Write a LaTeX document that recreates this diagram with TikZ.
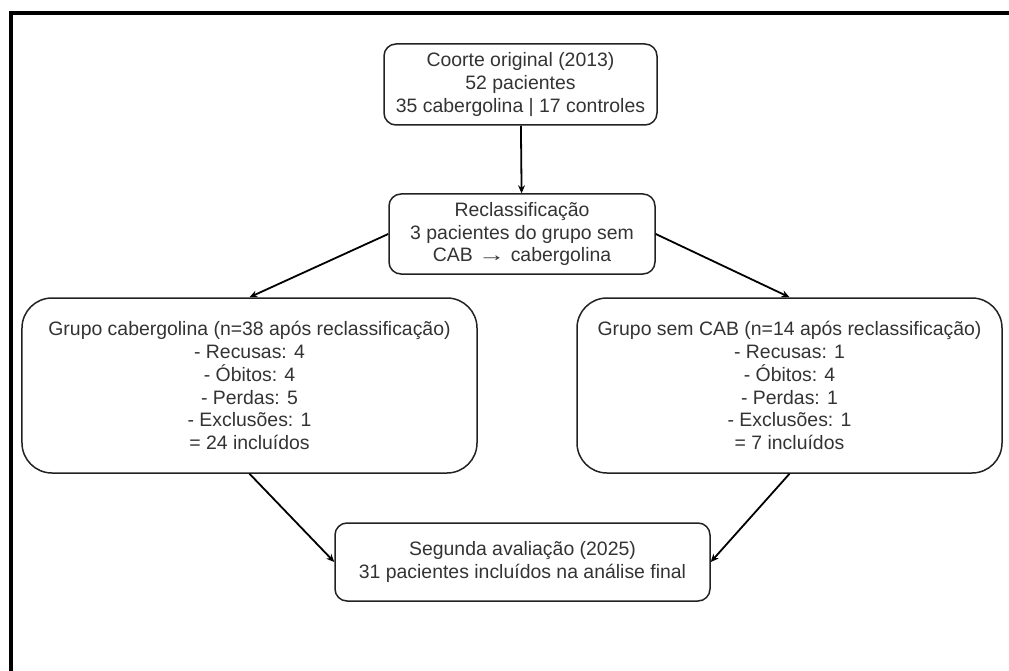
\documentclass[tikz,border=0pt]{standalone}
\usepackage{fontspec}
\setmainfont{Liberation Sans}
\usetikzlibrary{arrows.meta, positioning}
\definecolor{boxLine}{HTML}{222222}
\definecolor{txtGrey}{HTML}{333333}

\tikzset{
  flowbox/.style={draw=boxLine, line width=1.5bp, rounded corners=12bp, align=center,
    text=txtGrey, font=\fontsize{19.5}{23}\selectfont, inner sep=0pt},
  bigbox/.style={flowbox, rounded corners=30bp},
  flowarrow/.style={draw=black, line width=1.8bp, -{Stealth[length=8bp, width=7bp]}}
}

\begin{document}
\begin{tikzpicture}[x=1bp, y=-1bp]
  \useasboundingbox (0,0) rectangle (1009,671);
  % frame of the screenshot
  \draw[line width=4bp] (10.5,671) -- (10.5,13.5) -- (1009,13.5);

  \node[flowbox, minimum width=273bp, minimum height=81bp] (coorte) at (520.5,84.5)
    {Coorte original (2013)\\52 pacientes\\35 cabergolina | 17 controles};
  \node[flowbox, minimum width=266bp, minimum height=80bp] (reclass) at (522,234)
    {Reclassificação\\3 pacientes do grupo sem\\CAB \scalebox{1.4}[1]{→} cabergolina};
  \node[bigbox, minimum width=455bp, minimum height=175bp] (cab) at (249.5,385.5)
    {Grupo cabergolina (n=38 após reclassificação)\\- Recusas: 4\\- Óbitos: 4\\- Perdas: 5\\- Exclusões: 1\\= 24 incluídos};
  \node[bigbox, minimum width=425bp, minimum height=175bp] (semcab) at (789.5,385.5)
    {Grupo sem CAB (n=14 após reclassificação)\\- Recusas: 1\\- Óbitos: 4\\- Perdas: 1\\- Exclusões: 1\\= 7 incluídos};
  \node[flowbox, minimum width=375bp, minimum height=78bp] (segunda) at (522.5,562)
    {Segunda avaliação (2025)\\31 pacientes incluídos na análise final};

  \draw[flowarrow] (coorte) -- (reclass);
  \draw[flowarrow] (reclass.west) -- (cab.north);
  \draw[flowarrow] (reclass.east) -- (semcab.north);
  \draw[flowarrow] (cab.south) -- (segunda.west);
  \draw[flowarrow] (semcab.south) -- (segunda.east);
\end{tikzpicture}
\end{document}
